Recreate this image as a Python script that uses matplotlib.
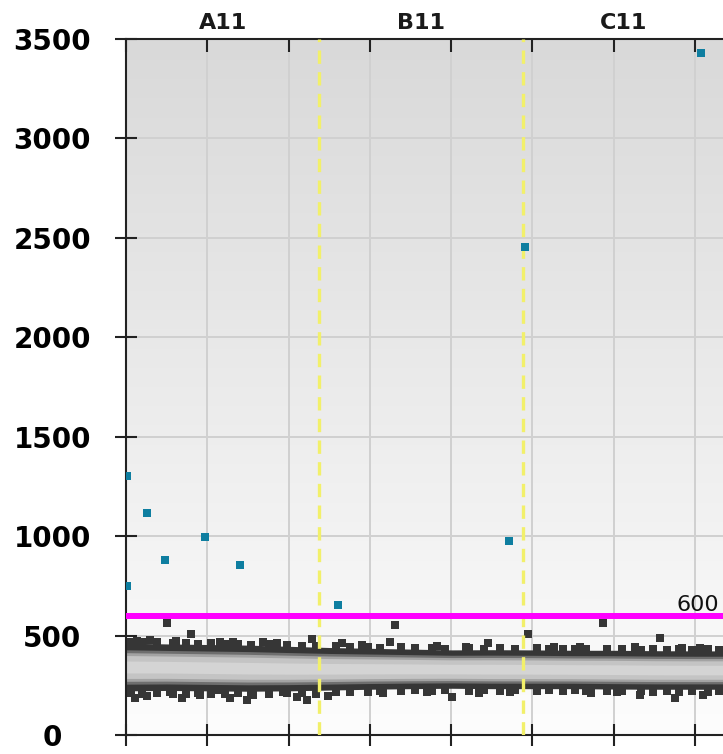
import numpy as np
import matplotlib
matplotlib.use("Agg")
import matplotlib.pyplot as plt
from matplotlib.colors import LinearSegmentedColormap

# wells and their droplet (event) counts
wells = ["A11", "B11", "C11"]
well_events = [11900, 12500, 12440]
threshold = 600

# positive droplets (event number, amplitude)
pos_ev = [50, 50, 1290, 2400, 4860, 7020, 13050, 23580, 24570, 35340]
pos_amp = [1302, 749, 1116, 880, 995, 855, 654, 975, 2453, 3429]

# negative droplet cloud: outer edges of the band
band_ev = [0, 2500, 5000, 7500, 10000, 12500, 15000, 17500, 20000,
           22500, 25000, 27500, 30000, 32500, 35000, 36840]
band_top = [462, 458, 455, 452, 446, 440, 436, 432, 428, 429, 428, 426, 426, 424, 423, 423]
band_bot = [222, 224, 222, 220, 222, 226, 230, 233, 235, 233, 233, 233, 231, 230, 230, 230]

# stray negative droplets outside the dense band
neg_ev = [2500, 4000, 16540, 11440, 24720, 29340, 32840, 22260, 13280, 16240,
          5780, 35300, 700, 1500, 3100, 6600, 8400, 9300, 14500, 19100,
          20900, 26300, 27900, 31300, 34200,
          550, 1290, 2700, 3450, 4550, 5600, 6400, 7440, 7830, 9660,
          10500, 11130, 18500, 20050, 23620, 31610, 33760, 35490, 12400,
          15800, 21700, 28600, 30200]
neg_amp = [563, 508, 553, 483, 508, 563, 488, 463, 463, 468,
           468, 437, 475, 478, 472, 470, 466, 462, 452, 446,
           444, 445, 443, 441, 440,
           186, 196, 216, 186, 201, 226, 186, 176, 201, 216,
           191, 176, 216, 191, 216, 201, 186, 201, 196,
           210, 212, 213, 214]

# droplets making the ragged edges of the band
edge_ev = [300, 1000, 1900, 2900, 3700, 4400, 5200, 6100, 6900, 7700, 8800, 9900,
           10800, 11700, 12900, 13800, 14900, 15600, 16900, 17800, 18800, 19600,
           21100, 22000, 23000, 23900, 25300, 26000, 26900, 27600, 28300, 29600,
           30500, 31700, 32400, 33300, 34000, 34800, 35800, 36500]
edge_top = [470, 466, 468, 463, 465, 460, 462, 458, 460, 455, 456, 452,
            450, 448, 446, 444, 442, 440, 441, 437, 438, 434,
            436, 433, 435, 432, 436, 431, 434, 430, 433, 430,
            432, 429, 433, 428, 431, 428, 430, 428]
edge_bot = [210, 206, 212, 208, 205, 210, 207, 204, 209, 203, 206, 210,
            212, 205, 214, 218, 216, 222, 220, 224, 219, 226,
            222, 227, 220, 224, 222, 226, 221, 225, 220, 223,
            219, 222, 218, 221, 216, 220, 218, 222]

total = sum(well_events)
bounds = np.cumsum(well_events)

fig = plt.figure(figsize=(7.23, 7.54), dpi=100)
ax = fig.add_axes([126 / 723, 19 / 754, 599 / 723, 696 / 754])

bg = LinearSegmentedColormap.from_list("bg", ["#fdfdfd", "#d9d9d9"])
ax.imshow(np.linspace(0, 1, 256)[:, None], extent=[0, total, 0, 3500], origin="lower",
          aspect="auto", cmap=bg, zorder=0)

ax.set_xlim(0, total)
ax.set_ylim(0, 3500)
ax.set_xticks(np.arange(0, total, 5000))
ax.set_yticks(np.arange(0, 3501, 500))
ax.grid(True, color="#d0d0d0", lw=1.4, zorder=1)

# density-shaded band, darkest at the edges
bt = np.array(band_top, float)
bb = np.array(band_bot, float)
mid = (bt + bb) / 2
half = (bt - bb) / 2
for frac, col in zip([1.0, 0.72, 0.6, 0.48, 0.25],
                     ["#363636", "#6e6e6e", "#a3a3a3", "#c4c4c4", "#d4d4d4"]):
    ax.fill_between(band_ev, mid - frac * half, mid + frac * half, color=col, lw=0, zorder=2)
ax.scatter(edge_ev + edge_ev, edge_top + edge_bot, marker="s", s=34, color="#363636",
           lw=0, zorder=2)
ax.scatter(neg_ev, neg_amp, marker="s", s=30, color="#363636", lw=0, zorder=2)

for b in bounds[:-1]:
    ax.axvline(b, color="#f2f06a", lw=2.4, ls=(0, (4, 2.5)), zorder=3)

ax.axhline(threshold, color="#ff00ff", lw=4.3, zorder=4)
ax.text(0.99, threshold + 26, str(threshold), transform=ax.get_yaxis_transform(),
        ha="right", va="baseline", fontsize=16, color="#111111")

ax.scatter(pos_ev, pos_amp, marker="s", s=30, color="#0e7ea0", lw=0, zorder=5)

starts = np.concatenate([[0], bounds[:-1]])
for name, s, b in zip(wells, starts, bounds):
    ax.annotate(name, ((s + b) / 2, 1), xycoords=ax.get_xaxis_transform(),
                xytext=(0, 4), textcoords="offset points", ha="center", va="bottom",
                fontsize=16, fontweight="bold", color="#1a1a1a")

for side in ["left", "bottom", "top", "right"]:
    ax.spines[side].set_linewidth(1.5)
    ax.spines[side].set_color("#222222")

ax.tick_params(axis="x", which="both", bottom=True, top=True, labelbottom=False,
               labeltop=False, color="#222222", width=1.5)
ax.tick_params(axis="x", direction="inout", length=16)
ax.tick_params(axis="y", direction="inout", length=16, width=1.5, color="#222222",
               right=True, labelsize=20, pad=45)
for lab in ax.get_yticklabels():
    lab.set_ha("center")
    lab.set_fontweight("bold")

# top/right ticks point inward only
for t in ax.xaxis.get_major_ticks():
    t.tick2line.set_markersize(9.5)
    t.tick2line.set_marker(3)
for t in ax.yaxis.get_major_ticks():
    t.tick2line.set_markersize(8.5)
    t.tick2line.set_marker(1)

fig.savefig("out.png", dpi=100)
